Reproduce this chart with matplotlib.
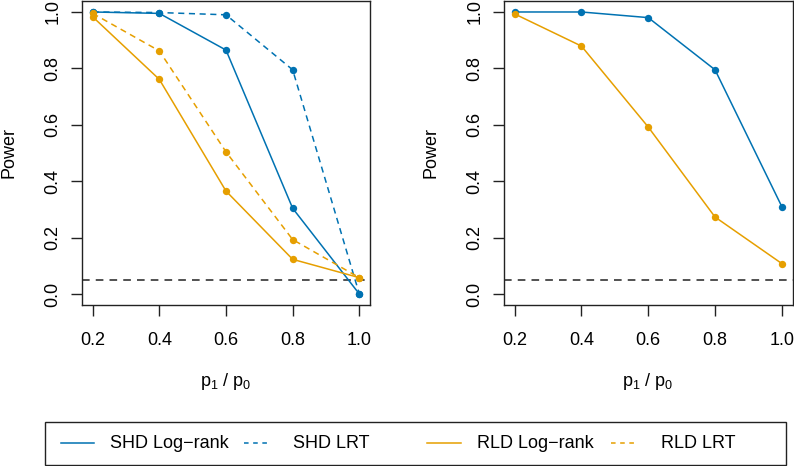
import matplotlib
matplotlib.use('Agg')
import matplotlib.pyplot as plt
from matplotlib.lines import Line2D
from matplotlib.patches import Rectangle

# data
ratio = [0.2, 0.4, 0.6, 0.8, 1.0]
x_ticks = [0.2, 0.4, 0.6, 0.8, 1.0]
y_ticks = [0.0, 0.2, 0.4, 0.6, 0.8, 1.0]

# left panel
shd_logrank_a = [1.0, 0.995, 0.865, 0.304, 0.0]
shd_lrt_a = [1.0, 0.998, 0.990, 0.795, 0.0]
rld_logrank_a = [0.983, 0.761, 0.365, 0.123, 0.058]
rld_lrt_a = [0.995, 0.862, 0.504, 0.193, 0.058]

# right panel
shd_logrank_b = [1.0, 1.0, 0.980, 0.795, 0.310]
rld_logrank_b = [0.993, 0.879, 0.592, 0.273, 0.108]

alpha_level = 0.05

legend_labels = ['SHD Log\u2212rank', 'SHD LRT', 'RLD Log\u2212rank', 'RLD LRT']

BLUE = '#0072B2'
ORANGE = '#E69F00'

plt.rcParams['font.family'] = ['Liberation Sans', 'DejaVu Sans']
plt.rcParams['mathtext.fontset'] = 'custom'
plt.rcParams['mathtext.rm'] = 'Liberation Sans'
plt.rcParams['mathtext.it'] = 'Liberation Sans'

W, H = 794, 466
fig = plt.figure(figsize=(W / 100, H / 100), dpi=100)

def px_axes(x0, x1, y0, y1):
    return fig.add_axes([x0 / W, 1 - y1 / H, (x1 - x0) / W, (y1 - y0) / H])

ax1 = px_axes(82, 370, 0.7, 305.3)
ax2 = px_axes(504, 792.5, 0.7, 305.3)

FS = 13

def style(ax):
    ax.set_xlim(0.168, 1.032)
    ax.set_ylim(-0.04, 1.04)
    ax.set_xticks(x_ticks)
    ax.set_xticklabels([f'{t:.1f}' for t in x_ticks])
    ax.set_yticks(y_ticks)
    ax.set_yticklabels([f'{t:.1f}' for t in y_ticks], rotation=90, va='center')
    ax.tick_params(direction='out', length=8, width=1.0, labelsize=FS, color='#222222')
    ax.tick_params(axis='x', pad=11)
    ax.tick_params(axis='y', pad=7)
    for s in ax.spines.values():
        s.set_linewidth(1.0)
        s.set_color('#222222')
    ax.axhline(alpha_level, color='#222222', lw=1.1, ls=(0, (5, 4)), zorder=1)

lw = 1.1
ms = 5.3

style(ax1)
ax1.plot(ratio, shd_logrank_a, color=BLUE, lw=lw, marker='o', ms=ms, mec='none')
ax1.plot(ratio, shd_lrt_a, color=BLUE, lw=lw, ls=(0, (4, 3)), marker='o', ms=ms, mec='none')
ax1.plot(ratio, rld_logrank_a, color=ORANGE, lw=lw, marker='o', ms=ms, mec='none')
ax1.plot(ratio, rld_lrt_a, color=ORANGE, lw=lw, ls=(0, (4, 3)), marker='o', ms=ms, mec='none')

style(ax2)
ax2.plot(ratio, shd_logrank_b, color=BLUE, lw=lw, marker='o', ms=ms, mec='none')
ax2.plot(ratio, rld_logrank_b, color=ORANGE, lw=lw, marker='o', ms=ms, mec='none')

# axis titles placed like R's
xlab = r'$\mathregular{p_1\ /\ p_0}$'
for cx, lx in [(226, 9), (648, 431)]:
    fig.text(cx / W, 1 - 382 / H, xlab, ha='center', va='center', fontsize=FS)
    fig.text(lx / W, 1 - 153 / H, 'Power', ha='center', va='center', rotation=90, fontsize=FS)

# legend box at the bottom
fig.patches.append(Rectangle((45 / W, 1 - 465 / H), (786 - 45) / W, (465 - 422) / H,
                             transform=fig.transFigure, fill=False, lw=1.0, ec='#222222'))
leg_y = 1 - 443 / H
handles = [(61, 94, 110, BLUE, '-'), (244, 271, 293, BLUE, (0, (3, 3))),
           (427, 461, 477, ORANGE, '-'), (611, 638, 661, ORANGE, (0, (3, 3)))]
for (l0, l1, tx, c, ls), lab in zip(handles, legend_labels):
    fig.lines.append(Line2D([l0 / W, l1 / W], [leg_y, leg_y], transform=fig.transFigure,
                            color=c, lw=lw, ls=ls))
    fig.text(tx / W, leg_y, lab, ha='left', va='center', fontsize=FS)

fig.savefig('out.png', dpi=100)
